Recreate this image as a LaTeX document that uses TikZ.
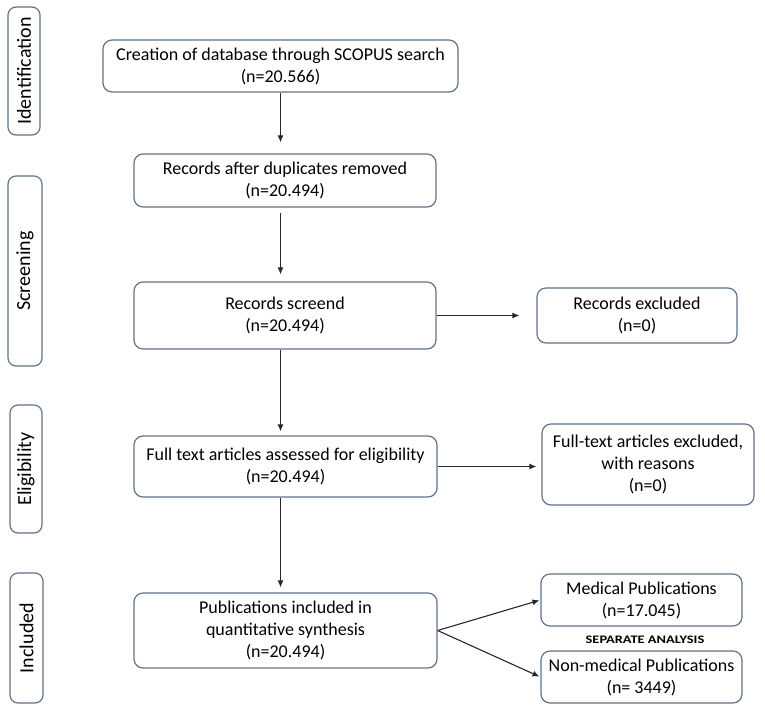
\documentclass[tikz,border=0pt]{standalone}
\usepackage{fontspec}
\setmainfont{Carlito}
\usetikzlibrary{arrows.meta}
\definecolor{boxline}{RGB}{96,116,138}
\definecolor{arrowc}{RGB}{40,40,40}
\begin{document}
\begin{tikzpicture}[x=1pt,y=-1pt,
  box/.style={draw=boxline, line width=1.2pt, rounded corners=9pt, align=center,
    font=\fontsize{18}{22}\selectfont, inner sep=0pt},
  stage/.style={draw=boxline, line width=1.2pt, rounded corners=8pt, rotate=90,
    font=\fontsize{20}{24}\selectfont, inner sep=0pt},
  arr/.style={draw=arrowc, line width=1.1pt, -{Latex[length=7pt,width=6pt]}}]
\useasboundingbox (0,0) rectangle (765,712);

% stage labels
\node[stage, minimum width=128pt, minimum height=32pt] (sid) at (24,71) {Identification};
\node[stage, minimum width=190pt, minimum height=34pt] (ssc) at (25,271) {Screening};
\node[stage, minimum width=128pt, minimum height=32pt] (sel) at (26,469) {Eligibility};
\node[stage, minimum width=130pt, minimum height=33pt] (sin) at (26.5,638) {Included};

% main boxes
\node[box, minimum width=355pt, minimum height=52pt] (b1) at (280.5,66) {Creation of database through SCOPUS search\\(n=20.566)};
\node[box, minimum width=302pt, minimum height=53pt] (b2) at (285,180.5) {Records after duplicates removed\\(n=20.494)};
\node[box, minimum width=302pt, minimum height=67pt] (b3) at (285,315.5) {Records screend\\(n=20.494)};
\node[box, minimum width=303pt, minimum height=61pt] (b4) at (285.5,466.5) {Full text articles assessed for eligibility\\(n=20.494)};
\node[box, minimum width=303pt, minimum height=75pt] (b5) at (285.5,630.5) {Publications included in\\quantitative synthesis\\(n=20.494)};

% side boxes
\node[box, minimum width=200pt, minimum height=55pt] (ex1) at (637,315.5) {Records excluded\\(n=0)};
\node[box, minimum width=212pt, minimum height=81pt] (ex2) at (648,464.5) {Full-text articles excluded,\\with reasons\\(n=0)};
\node[box, minimum width=201pt, minimum height=52pt] (med) at (641.5,600) {Medical Publications\\(n=17.045)};
\node[box, minimum width=201pt, minimum height=52pt] (nonmed) at (641.5,677) {Non-medical Publications\\(n= 3449)};
\node[font=\bfseries\fontsize{11.5}{13}\selectfont, xscale=1.25, inner sep=0pt] (sep) at (645,640) {SEPARATE ANALYSIS};

% connectors
\draw[arr, shorten >=11pt] (b1.south) -- (b1.south |- b2.north);
\draw[arr, shorten <=5pt, shorten >=7pt] (b2.south -| b1.south) -- (b1.south |- b3.north);
\draw[arr, shorten >=4pt] (b3.south -| b1.south) -- (b1.south |- b4.north);
\draw[arr, shorten >=5pt] (b4.south -| b1.south) -- (b1.south |- b5.north);
\draw[arr, shorten >=17pt] (b3.east) -- (b3.east -| ex1.west);
\draw[arr, shorten >=5pt] (b4.east) -- (b4.east -| ex2.west);
\draw[arr, shorten >=1pt] (b5.east) -- (med.west);
\draw[arr, shorten >=1pt] (b5.east) -- (nonmed.west);
\end{tikzpicture}
\end{document}
